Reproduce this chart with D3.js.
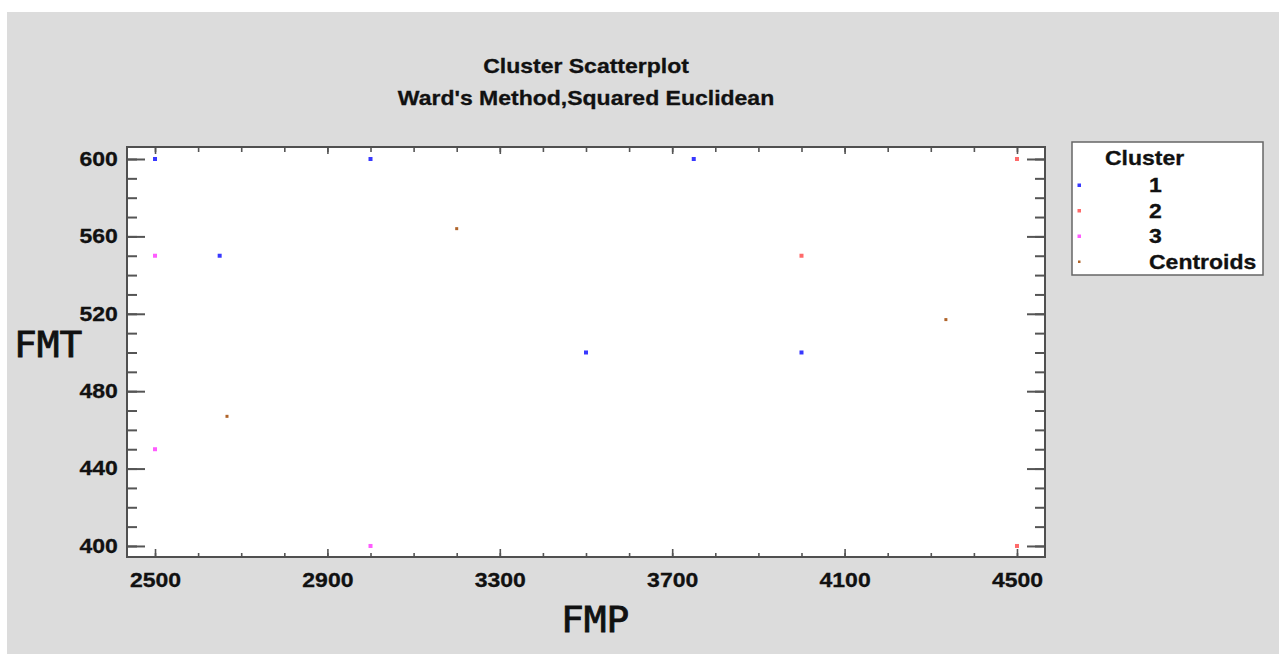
<!DOCTYPE html>
<html>
<head>
<meta charset="utf-8">
<script src="https://cdn.jsdelivr.net/npm/d3@7"></script>
<style>
    body { margin: 0; background: #ffffff; }
    svg { display: block; }
</style>
</head>
<body>
<svg id="chart" width="1279" height="654"></svg>
<script>
// chart data
var titleLines = ["Cluster Scatterplot", "Ward's Method,Squared Euclidean"];
var xLabel = "FMP";
var yLabel = "FMT";
var legendTitle = "Cluster";
var legendLabels = ["1", "2", "3", "Centroids"];

var xTicks = [2500, 2900, 3300, 3700, 4100, 4500];
var xMinorTicks = d3.range(2500, 4501, 100);
var yTicks = [400, 440, 480, 520, 560, 600];
var yMinorTicks = d3.range(400, 601, 10);

var cluster1X = [2500, 3000, 3750, 2650, 3500, 4000];
var cluster1Y = [600, 600, 600, 550, 500, 500];
var cluster2X = [4500, 4000, 4500];
var cluster2Y = [600, 550, 400];
var cluster3X = [2500, 2500, 3000];
var cluster3Y = [550, 450, 400];
var centroidX = [3200, 4335, 2667];
var centroidY = [564, 517, 467];

var seriesColors = ["#3838ff", "#ff6a6a", "#ff5cff", "#b0642a"];

// layout
var frame = { left: 127, top: 147, right: 1045, bottom: 557 };
var stretch = 1.15; // text in the picture is a bit wide

var svg = d3.select("#chart");

svg.append("rect")
    .attr("x", 7).attr("y", 12)
    .attr("width", 1272).attr("height", 642)
    .attr("fill", "#dcdcdc");

var x = d3.scaleLinear().domain([2435, 4565]).range([frame.left, frame.right]);
var y = d3.scaleLinear().domain([394.3, 606.2]).range([frame.bottom, frame.top]);

// plot area
svg.append("rect")
    .attr("x", frame.left).attr("y", frame.top)
    .attr("width", frame.right - frame.left)
    .attr("height", frame.bottom - frame.top)
    .attr("fill", "#ffffff");

var tickColor = "#555555";

var drawTicks = function(axis, tx, ty, width) {
    var g = svg.append("g")
        .attr("transform", "translate(" + tx + "," + ty + ")")
        .call(axis);
    g.select(".domain").remove();
    g.selectAll("line").attr("stroke", tickColor).attr("stroke-width", width);
    g.selectAll("text").remove();
    return g;
};

// y ticks, left and right, pointing inward
drawTicks(d3.axisLeft(y).tickValues(yMinorTicks).tickSize(-10), frame.left, 0, 2);
drawTicks(d3.axisLeft(y).tickValues(yTicks).tickSize(-18), frame.left, 0, 2);
drawTicks(d3.axisRight(y).tickValues(yMinorTicks).tickSize(-10), frame.right, 0, 2);
drawTicks(d3.axisRight(y).tickValues(yTicks).tickSize(-18), frame.right, 0, 2);

// x ticks, bottom and top
drawTicks(d3.axisBottom(x).tickValues(xMinorTicks).tickSize(-4), 0, frame.bottom, 1.6);
drawTicks(d3.axisBottom(x).tickValues(xTicks).tickSize(-8), 0, frame.bottom, 1.6);
drawTicks(d3.axisTop(x).tickValues(xMinorTicks).tickSize(-5), 0, frame.top, 1.6);
drawTicks(d3.axisTop(x).tickValues(xTicks).tickSize(-7), 0, frame.top, 1.6);

// frame
svg.append("rect")
    .attr("x", frame.left).attr("y", frame.top)
    .attr("width", frame.right - frame.left)
    .attr("height", frame.bottom - frame.top)
    .attr("fill", "none")
    .attr("stroke", "#505050")
    .attr("stroke-width", 2);

// tick labels
var labelFont = "'Liberation Sans', Arial, sans-serif";

var styleLabel = function(sel) {
    sel.attr("font-family", labelFont)
        .attr("font-size", 20)
        .attr("font-weight", "bold")
        .attr("fill", "#111111")
        .attr("stroke", "#111111")
        .attr("stroke-width", 0.3);
};

var yAxisLabels = svg.append("g")
    .attr("transform", "translate(" + frame.left + ",0)")
    .call(d3.axisLeft(y).tickValues(yTicks).tickSize(0).tickPadding(8)
        .tickFormat(d3.format("d")));
yAxisLabels.select(".domain").remove();
yAxisLabels.selectAll("text")
    .call(styleLabel)
    .attr("transform", "scale(" + stretch + ",1)");

var xAxisLabels = svg.append("g")
    .attr("transform", "translate(0," + frame.bottom + ")")
    .call(d3.axisBottom(x).tickValues(xTicks).tickSize(0).tickPadding(16)
        .tickFormat(d3.format("d")));
xAxisLabels.select(".domain").remove();
xAxisLabels.selectAll("text")
    .call(styleLabel)
    .attr("transform", "scale(" + stretch + ",1)");

// titles
svg.selectAll(".title")
    .data(titleLines)
    .enter()
    .append("text")
    .attr("class", "title")
    .attr("transform", function(d, i) {
        return "translate(" + ((frame.left + frame.right) / 2) + "," + (73 + i * 32) + ") scale(" + stretch + ",1)";
    })
    .attr("text-anchor", "middle")
    .call(styleLabel)
    .text(function(d) { return d; });

// axis names
svg.append("text")
    .attr("transform", "translate(595,632) scale(1.08,1)")
    .attr("text-anchor", "middle")
    .attr("font-family", "'DejaVu Sans Mono', monospace")
    .attr("font-size", 35)
    .attr("fill", "#111111")
    .attr("stroke", "#111111")
    .attr("stroke-width", 0.8)
    .text(xLabel);

svg.append("text")
    .attr("transform", "translate(48,357) scale(1.08,1)")
    .attr("text-anchor", "middle")
    .attr("font-family", "'DejaVu Sans Mono', monospace")
    .attr("font-size", 35)
    .attr("fill", "#111111")
    .attr("stroke", "#111111")
    .attr("stroke-width", 0.8)
    .text(yLabel);

// points
var series = [
    { xs: cluster1X, ys: cluster1Y, size: 4 },
    { xs: cluster2X, ys: cluster2Y, size: 4 },
    { xs: cluster3X, ys: cluster3Y, size: 4 },
    { xs: centroidX, ys: centroidY, size: 3 }
];

series.forEach(function(s, si) {
    var pts = s.xs.map(function(v, i) { return { x: v, y: s.ys[i] }; });
    svg.append("g")
        .selectAll("rect")
        .data(pts)
        .enter()
        .append("rect")
        .attr("x", function(d) { return x(d.x) - s.size / 2; })
        .attr("y", function(d) { return y(d.y) - s.size / 2; })
        .attr("width", s.size)
        .attr("height", s.size)
        .attr("fill", seriesColors[si]);
});

// legend
var legend = svg.append("g");
legend.append("rect")
    .attr("x", 1072).attr("y", 142)
    .attr("width", 191).attr("height", 133)
    .attr("fill", "#ffffff")
    .attr("stroke", "#666666")
    .attr("stroke-width", 1.5);

legend.append("text")
    .attr("transform", "translate(1105,165) scale(" + stretch + ",1)")
    .call(styleLabel)
    .text(legendTitle);

var items = legend.selectAll(".item")
    .data(legendLabels)
    .enter()
    .append("g")
    .attr("class", "item")
    .attr("transform", function(d, i) { return "translate(0," + (192 + i * 25.5) + ")"; });

items.append("rect")
    .attr("x", function(d, i) { return i == 3 ? 1078 : 1077.5; })
    .attr("y", function(d, i) { return i == 3 ? -8 : -8.5; })
    .attr("width", function(d, i) { return i == 3 ? 2.5 : 3.5; })
    .attr("height", function(d, i) { return i == 3 ? 2.5 : 3.5; })
    .attr("fill", function(d, i) { return seriesColors[i]; });

items.append("text")
    .attr("transform", "translate(1149,0) scale(" + stretch + ",1)")
    .call(styleLabel)
    .text(function(d) { return d; });
</script>
</body>
</html>
